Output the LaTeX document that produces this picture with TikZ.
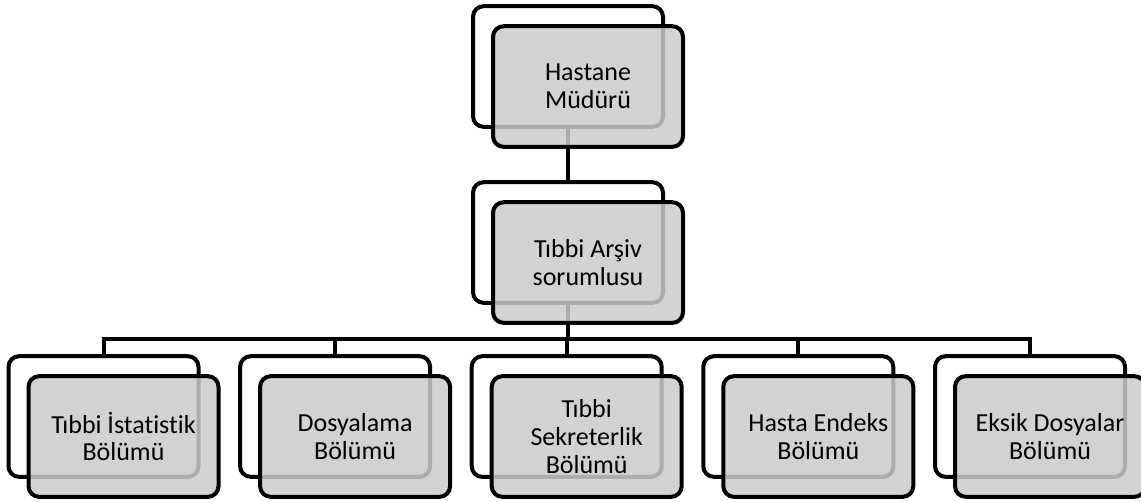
\documentclass[tikz,border=0pt]{standalone}
\usepackage{fontspec}
\setmainfont[Ligatures=NoCommon]{Carlito}
\definecolor{boxgray}{RGB}{203,203,203}
\begin{document}
\begin{tikzpicture}[x=0.75pt,y=-0.75pt,
  backbox/.style={draw=black,line width=3pt,fill=white,rounded corners=8pt,
    minimum width=142.5pt,minimum height=90.5pt,inner sep=0pt},
  frontbox/.style={draw=black,line width=3pt,fill=boxgray,fill opacity=0.85,text opacity=1,
    rounded corners=8pt,minimum width=142.5pt,minimum height=90.5pt,inner sep=0pt,
    align=center,font=\fontsize{19.5pt}{20.8pt}\selectfont},
  link/.style={line width=3pt,line join=miter}]
\useasboundingbox (0,0) rectangle (1141,501);
% back boxes
\node[backbox] (b0) at (568,66.5) {};
\node[backbox] (b1) at (568,242.5) {};
\node[backbox] (c1) at (103.5,416.5) {};
\node[backbox] (c2) at (335.1,416.5) {};
\node[backbox] (c3) at (566.7,416.5) {};
\node[backbox] (c4) at (798.3,416.5) {};
\node[backbox] (c5) at (1030,416.5) {};
% connectors
\coordinate (bus) at (568,339);
\draw[link] (b0.south) -- (b1.north);
\draw[link] (b1.south) -- (bus);
\foreach \c in {c1,c2,c3,c4,c5} \draw[link] (bus) -| (\c.north);
% front boxes
\node[frontbox] (f0) at (588,86.5) {Hastane\\Müdürü};
\node[frontbox] (f1) at (588,262.5) {Tıbbi Arşiv\\sorumlusu};
\node[frontbox] (g1) at (123.5,436.5) {Tıbbi İstatistik\\Bölümü};
\node[frontbox] (g2) at (355.1,436.5) {Dosyalama\\Bölümü};
\node[frontbox] (g3) at (586.7,436.5) {Tıbbi\\Sekreterlik\\Bölümü};
\node[frontbox] (g4) at (818.3,436.5) {Hasta Endeks\\Bölümü};
\node[frontbox] (g5) at (1050,436.5) {Eksik Dosyalar\\Bölümü};
\end{tikzpicture}
\end{document}
